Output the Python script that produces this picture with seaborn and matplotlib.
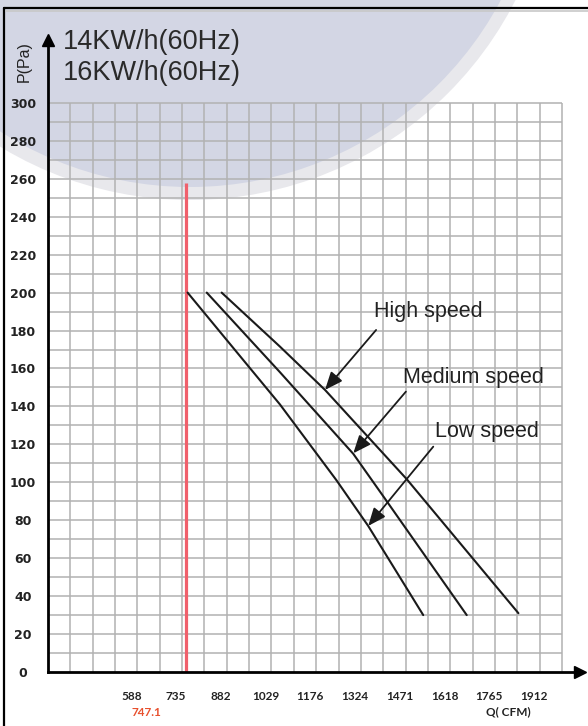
import numpy as np
import pandas as pd
import matplotlib
matplotlib.use("Agg")
import matplotlib.pyplot as plt
import seaborn as sns
from matplotlib.patches import Circle
from matplotlib.lines import Line2D
from matplotlib.transforms import ScaledTranslation

# ---------------- data ----------------
low_q = [753, 1057, 1243, 1347, 1528]
low_p = [200, 141, 101, 77, 30]
med_q = [816, 1057, 1298, 1395, 1671]
med_p = [200, 158, 115, 93, 30]
high_q = [865, 1057, 1205, 1474, 1841]
high_p = [200, 171.5, 148.7, 101.6, 31]

x_tick_labels = ["588", "735", "882", "1029", "1176", "1324", "1471", "1618", "1765", "1912"]
y_ticks = [0, 20, 40, 60, 80, 100, 120, 140, 160, 180, 200, 220, 240, 260, 280, 300]
min_air_volume = 747.1
min_line_top = 258

titles = ["14KW/h(60Hz)", "16KW/h(60Hz)"]
speed_names = ["High speed", "Medium speed", "Low speed"]
label_pos = [(1366, 190), (1460, 155), (1567, 126.7)]
arrow_start = [(1373, 180.3), (1471, 147.8), (1561, 118.8)]
arrow_tip = [(1205, 148.7), (1298, 115.3), (1347, 77)]

# ---------------- figure ----------------
sns.set_style("white")
plt.rcParams['font.family'] = ['Liberation Sans', 'DejaVu Sans']

W, H = 588, 726
fig = plt.figure(figsize=(W / 100, H / 100), dpi=100)
fig.patch.set_facecolor("white")

# watermark circle
cx, cy, r = 190 / 100, (H + 165) / 100, 352 / 100
fig.patches.append(Circle((cx, cy), r + 0.13, transform=fig.dpi_scale_trans,
                          facecolor="#e8e8ec", edgecolor="none", zorder=-20))
fig.patches.append(Circle((cx, cy), r, transform=fig.dpi_scale_trans,
                          facecolor="#d3d6e4", edgecolor="none", zorder=-19))

# outer frame (left & top)
fig.add_artist(Line2D([4 / W, 4 / W], [0, 1 - 8 / H], color="black", lw=1.6))
fig.add_artist(Line2D([4 / W, 1], [1 - 8 / H, 1 - 8 / H], color="black", lw=1.6))
fig.add_artist(Line2D([6 / W, 1], [1 - 10.5 / H, 1 - 10.5 / H], color="#c8c8c8", lw=1.2))

ax = fig.add_axes([48 / W, 54 / H, 532 / W, 632 / H])
ax.set_facecolor("none")

q0 = 294.0
px_per_q = 44.7 / 147.0
px_per_p = 1.897
ax.set_xlim(q0, q0 + 532 / px_per_q)
ax.set_ylim(0, 632 / px_per_p)

# grid
grid_step = 73.5
q_right = 1985.5
vx = np.arange(q0 + grid_step, q_right + 1, grid_step)
hy = np.arange(10, 301, 10)
ax.vlines(vx, 0, 300, color="#b2b2b2", lw=1.1, zorder=1)
ax.hlines(hy, q0, q_right, color="#b2b2b2", lw=1.1, zorder=1)

# minimum air volume line
ax.vlines(min_air_volume, 0, min_line_top, color="#f0606c", lw=2.3, zorder=2)

# curves
df = pd.concat([
    pd.DataFrame({"Q": low_q, "P": low_p, "speed": "Low"}),
    pd.DataFrame({"Q": med_q, "P": med_p, "speed": "Medium"}),
    pd.DataFrame({"Q": high_q, "P": high_p, "speed": "High"}),
])
sns.lineplot(data=df, x="Q", y="P", units="speed", estimator=None, sort=False,
             color="#1a1a1a", lw=1.5, ax=ax, zorder=3)

# annotations
for name, lp, a0, a1 in zip(speed_names, label_pos, arrow_start, arrow_tip):
    ax.annotate("", xy=a1, xytext=a0,
                arrowprops=dict(arrowstyle="-|>,head_length=0.6,head_width=0.25",
                                color="#1a1a1a", lw=1.3,
                                mutation_scale=18, shrinkA=0, shrinkB=0), zorder=4)
    ax.text(lp[0], lp[1], name, fontsize=15.5, color="#222222", ha="left", va="center")

# axes spines with arrows
for s in ["top", "right"]:
    ax.spines[s].set_visible(False)
for s in ["left", "bottom"]:
    ax.spines[s].set_linewidth(2.0)
    ax.spines[s].set_color("black")
    ax.spines[s].set_zorder(5)
ax.plot(1, 0, ">", color="black", ms=8, transform=ax.transAxes, clip_on=False, zorder=6)
ax.plot(0, 1, "^", color="black", ms=8, transform=ax.transAxes, clip_on=False, zorder=6)

# ticks
ax.set_xticks([float(t) for t in x_tick_labels])
ax.set_xticklabels(x_tick_labels)
ax.set_yticks(y_ticks)
ax.set_yticklabels([str(v) for v in y_ticks])
ax.tick_params(axis="x", direction="inout", length=3, width=2, color="black", pad=12)
ax.tick_params(axis="y", length=0, pad=18)
for lbl in ax.get_yticklabels():
    lbl.set_horizontalalignment("center")
    lbl.set_fontfamily("DejaVu Sans")
    lbl.set_fontweight("bold")
    lbl.set_fontsize(9)
    lbl.set_color("#222222")
off = ScaledTranslation(-6 / 100, 0, fig.dpi_scale_trans)
for lbl in ax.get_xticklabels():
    lbl.set_fontfamily("Lato")
    lbl.set_fontweight("bold")
    lbl.set_fontsize(8.5)
    lbl.set_color("#222222")
    lbl.set_transform(lbl.get_transform() + off)
ax.set_xlabel("")
ax.set_ylabel("")

# axis titles
fig.text(508 / W, 1 - 712 / H, "Q( CFM)", fontsize=8.5, fontfamily="Lato",
         fontweight="bold", color="#222222", ha="center", va="center")
fig.text(146 / W, 1 - 712 / H, "747.1", fontsize=8.5, fontfamily="Lato",
         fontweight="bold", color="#e8502e", ha="center", va="center")
fig.text(24 / W, 1 - 62 / H, "P(Pa)", fontsize=11.5, rotation=90,
         color="#222222", ha="center", va="center")

# header
fig.text(63 / W, 1 - 42 / H, titles[0], fontsize=19.5, color="#2a2a2a", ha="left", va="center")
fig.text(63 / W, 1 - 73 / H, titles[1], fontsize=19.5, color="#2a2a2a", ha="left", va="center")

fig.savefig("out.png", dpi=100)
